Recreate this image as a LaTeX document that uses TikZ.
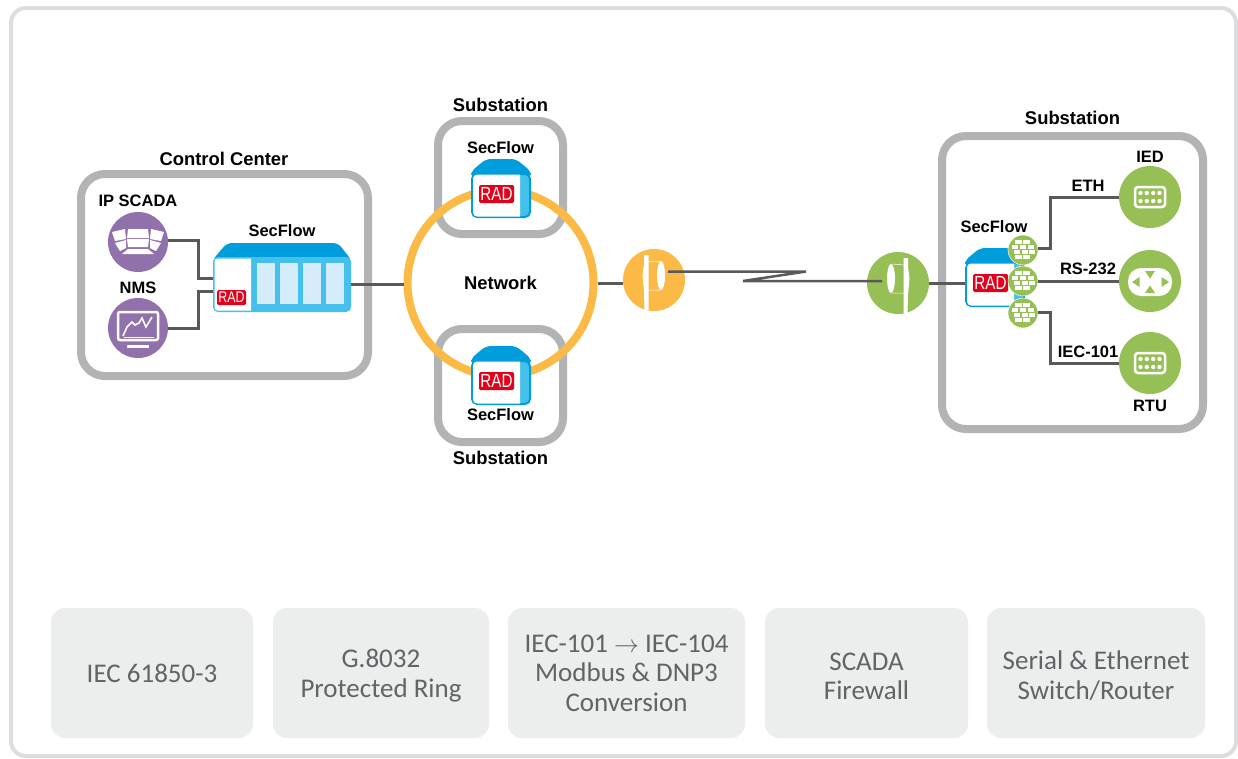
\documentclass[tikz,border=0pt]{standalone}
\usepackage{fontspec}
\setmainfont{Liberation Sans}
\newfontfamily\boxfont{Carlito}
\usepackage{xcolor}
\usetikzlibrary{positioning, calc}
\definecolor{siteGray}{RGB}{178, 179, 181}
\definecolor{frameGray}{RGB}{220, 221, 222}
\definecolor{boxGray}{RGB}{236, 237, 237}
\definecolor{boxText}{RGB}{98, 99, 102}
\definecolor{linkGray}{RGB}{88, 89, 91}
\definecolor{ringOrange}{RGB}{251, 186, 69}
\definecolor{leafGreen}{RGB}{150, 192, 86}
\definecolor{nmsPurple}{RGB}{145, 113, 171}
\definecolor{hatBlue}{RGB}{0, 157, 220}
\definecolor{stripBlue}{RGB}{69, 191, 235}
\definecolor{slotBlue}{RGB}{212, 236, 249}
\definecolor{radRed}{RGB}{226, 0, 26}
\newcommand{\firstline}{\rule{0pt}{24pt}}
\tikzset{
    tag/.style={
        font=\fontsize{16.5}{19}\selectfont\bfseries,
        align=center,
        inner sep=0pt
    },
    sitetag/.style={
        tag,
        font=\fontsize{18.4}{21}\selectfont\bfseries
    },
    site/.style={
        draw=siteGray,
        line width=8pt,
        fill=white,
        rounded corners=24pt
    },
    feature/.style={
        fill=boxGray,
        rounded corners=14pt,
        minimum height=130pt,
        align=center,
        text=boxText,
        font=\boxfont\fontsize{27}{29.5}\selectfont
    },
    bullet/.style={
        circle,
        minimum size=62pt,
        inner sep=0pt
    },
    guard/.style={
        circle,
        fill=leafGreen,
        draw=white,
        line width=0.5pt,
        minimum size=30pt,
        inner sep=0pt
    },
    link/.style={
        draw=linkGray,
        line width=3pt
    },
    radlogo/.style={
        fill=radRed,
        text=white,
        rounded corners=1.5pt,
        inner sep=0pt,
        font=\fontsize{19}{19}\selectfont
    },
    smallrad/.pic={
        \fill[hatBlue, rounded corners=5pt] (-30,-18) -- (-30,-24) -- (-15,-36.5) -- (15,-36.5) -- (30,-24) -- (30,-18) -- cycle;
        \node[draw=hatBlue, fill=stripBlue, line width=2pt, rounded corners=5pt, minimum width=58pt, minimum height=43pt, inner sep=0pt] (front) at (0,0) {};
        \fill[white] (19,-21) [rounded corners=4pt] -- (-28,-21) -- (-28,21) [sharp corners] -- (19,21) -- cycle;
        \node[radlogo, minimum width=35pt, minimum height=18pt] (logo) at (-4.5,-1.5) {\scalebox{.8}[1]{RAD}};
    },
    chassis/.pic={
        \fill[hatBlue, rounded corners=5pt] (-69,-18) -- (-69,-25) -- (-55,-41.5) -- (56,-41.5) -- (69,-25) -- (69,-18) -- cycle;
        \node[draw=stripBlue, fill=stripBlue, line width=2pt, rounded corners=4pt, minimum width=136pt, minimum height=53pt, inner sep=0pt] (front) at (0,0) {};
        \fill[white] (-31,-26) [rounded corners=3pt] -- (-67.5,-26) -- (-67.5,26) [sharp corners] -- (-31,26) -- cycle;
        \foreach \slotx in {-25,-2,21,44}
            \fill[slotBlue] (\slotx,-21.5) rectangle ++(18,41);
        \node[radlogo, minimum width=29pt, minimum height=15pt, font=\fontsize{15.5}{15.5}\selectfont] (logo) at (-50.5,13) {\scalebox{.8}[1]{RAD}};
    },
    dish/.pic={
        \fill[white] (-10,-25) -- (-5.5,-25) -- (-5.5,30) -- (-9.5,30) -- (-10,12) -- (-11.5,-5) -- (-10,-16) -- cycle;
        \fill[white] (7,-4.5) ellipse (4 and 14.5);
        \draw[white, line width=0.5pt] (-6,-18) -- (6,-19) (-6,10) -- (6,10);
    },
    screens/.pic={
        \fill[white] (-26,-10) -- (-13,-13) -- (-12,-3) -- (-23,-1) -- cycle;
        \fill[white] (-10,-13) -- (10,-13) -- (11,-4) -- (-11,-4) -- cycle;
        \fill[white] (13,-13) -- (26,-10) -- (23,-1) -- (12,-3) -- cycle;
        \fill[white] (-23,1) -- (-12,-2) -- (-12,6) -- (-18,9) -- cycle;
        \fill[white] (-11,-3) -- (11,-3) -- (10,5) -- (-10,5) -- cycle;
        \fill[white] (12,-2) -- (23,1) -- (18,9) -- (12,6) -- cycle;
        \fill[white] (-16,12) -- (-10,7) -- (10,7) -- (16,12) -- cycle;
    },
    monitor/.pic={
        \draw[white, line width=2.5pt, rounded corners=2pt] (-20,-16) rectangle (20,12);
        \draw[white, line width=1.6pt] (-15,8) -- (-11,-1) -- (-6,-6) -- (-3,-3) -- (1,-5) -- (4,-10) -- (8,-1) -- (14,-11);
        \draw[white, line width=1pt] (-14,9) -- (16,9);
        \fill[white] (-11,17) rectangle (11,20);
    },
    serialport/.pic={
        \draw[white, line width=2.5pt, rounded corners=3pt] (-15,-10) rectangle (15,10);
        \foreach \dotx in {-9.5,-3.2,3.2,9.5}
            \foreach \doty in {-4,4}
                \fill[white] (\dotx,\doty) circle (2.2);
    },
    crosspad/.pic={
        \fill[white, rounded corners=13pt] (-22,-13) rectangle (22,15);
        \fill[leafGreen] (-5,-10) -- (5,-10) -- (0,-2.5) -- cycle;
        \fill[leafGreen] (-5,12) -- (5,12) -- (0,4.5) -- cycle;
        \fill[leafGreen] (-18,1) -- (-10.5,-4) -- (-10.5,6) -- cycle;
        \fill[leafGreen] (19,1) -- (11.5,-4) -- (11.5,6) -- cycle;
    },
    bricks/.pic={
        \foreach \rowy/\rowx in {-8/-5,-8/3,-3/-8.5,-3/-0.5,-3/7.5,2/-6.5,2/1.5,2/8.5,7/-5,7/3}
            \fill[white] ({\rowx-3},\rowy-1.7) rectangle ++(6.5,3.4);
    }
}
\begin{document}
\begin{tikzpicture}[x=1pt, y=-1pt]
  \useasboundingbox (0,0) rectangle (1238,758);
  \fill[white] (0,0) rectangle (1238,758);

  % Frame
  \node[draw=frameGray, line width=4pt, rounded corners=15pt, minimum width=1225pt, minimum height=748pt, inner sep=0pt] (frame) at (623.5,382) {};

  % Sites
  \node[site, minimum width=287pt, minimum height=202pt, inner sep=0pt] (control) at (224.5,275) {};
  \node[site, minimum width=125pt, minimum height=113pt, inner sep=0pt] (subTop) at (500.5,177.5) {};
  \node[site, minimum width=125pt, minimum height=113pt, inner sep=0pt] (subBottom) at (500.5,385.5) {};
  \node[site, minimum width=261pt, minimum height=293pt, inner sep=0pt] (subRight) at (1072.5,282.5) {};
  \node[sitetag] (controlName) at (224,159) {Control Center};
  \node[sitetag] (subTopName) at (500.5,105) {Substation};
  \node[sitetag] (subBottomName) at (500.5,458) {Substation};
  \node[sitetag] (subRightName) at (1072.5,118) {Substation};

  % Ring
  \node[circle, draw=ringOrange, line width=8pt, minimum size=186pt, inner sep=0pt] (ring) at (500.5,283) {};
  \node[sitetag] (ringName) at (500.5,283) {Network};

  % SecFlow units
  \pic (unitTop) at (501,195.5) {smallrad};
  \pic (unitBottom) at (501,382.5) {smallrad};
  \pic (unitRight) at (995,284.5) {smallrad};
  \pic (unitMain) at (282,284.5) {chassis};
  \node[tag] (unitTopName) at (500.5,148) {SecFlow};
  \node[tag] (unitBottomName) at (500.5,415) {SecFlow};
  \node[tag] (unitRightName) at (994,227) {SecFlow};
  \node[tag] (unitMainName) at (282,231) {SecFlow};

  % Control center hosts
  \node[bullet, fill=nmsPurple, minimum size=60pt] (scada) at (138,242) {};
  \node[bullet, fill=nmsPurple, minimum size=60pt] (nms) at (138,328) {};
  \pic at (138,242) {screens};
  \pic at (138,328) {monitor};
  \node[tag] (scadaName) at (138,201) {IP SCADA};
  \node[tag] (nmsName) at (138,288) {NMS};

  % Dishes
  \node[bullet, fill=ringOrange] (dishLeft) at (654,280) {};
  \node[bullet, fill=leafGreen] (dishRight) at (898,283) {};
  \pic at (654,280) {dish};
  \pic[xscale=-1] at (898,283) {dish};
  \coordinate (feedLeft) at (668,271.5);
  \coordinate (feedRight) at (882,281);
  \coordinate (zigA) at (806,271.5);
  \coordinate (zigB) at (743,281);

  % Firewalls
  \node[guard] (wallA) at (1023,250) {};
  \node[guard] (wallB) at (1023,281) {};
  \node[guard] (wallC) at (1023,313) {};
  \foreach \wall in {wallA,wallB,wallC}
      \pic at (\wall) {bricks};

  % Field devices
  \node[bullet, fill=leafGreen] (ied) at (1150,197) {};
  \node[bullet, fill=leafGreen] (serial) at (1150,281) {};
  \node[bullet, fill=leafGreen] (rtu) at (1150,363) {};
  \pic at (ied) {serialport};
  \pic at (serial) {crosspad};
  \pic at (rtu) {serialport};
  \node[tag] (iedName) at (1150,157) {IED};
  \node[tag] (rtuName) at (1150,406) {RTU};

  % Connections
  \coordinate (elbowTop) at (198,278);
  \coordinate (elbowLow) at (198,291);
  \coordinate (elbowEth) at (1050,248);
  \coordinate (elbowIec) at (1050,312);
  \draw[link] (scada.east |- 0,240) -| (elbowTop) -- (elbowTop -| unitMainfront.west);
  \draw[link] (nms.east) -| (elbowLow) -- (elbowLow -| unitMainfront.west);
  \draw[link] (unitMainfront.east) -- (unitMainfront.east -| ring.west);
  \draw[link] (ring.east) -- (ring.east -| dishLeft.west);
  \draw[link, line width=2.5pt, line join=miter] (feedLeft) -- (zigA) -- (zigB) -- (feedRight);
  \draw[link] (dishRight.east) -- (unitRightfront.west |- dishRight.east);
  \draw[link] (wallA.east |- elbowEth) -- (elbowEth) |- (ied.west);
  \draw[link] (wallB.east) -- (serial.west);
  \draw[link] (wallC.east |- elbowIec) -- (elbowIec) |- (rtu.west);
  \node[tag] (ethName) at (1088,186) {ETH};
  \node[tag] (rsName) at (1088,269) {RS-232};
  \node[tag] (iecName) at (1088,352) {IEC-101};

  % Feature boxes
  \node[feature, minimum width=202pt] (featRing) at (152,673) {IEC 61850-3};
  \node[feature, minimum width=216pt] (featG) at (381,673) {\firstline G.8032\\Protected Ring};
  \node[feature, minimum width=237pt] (featConv) at (626.5,673) {IEC-101 $\rightarrow$ IEC-104\\Modbus \& DNP3\\Conversion};
  \node[feature, minimum width=203pt] (featWall) at (866.5,673) {\firstline SCADA\\Firewall};
  \node[feature, minimum width=218pt] (featSwitch) at (1096,673) {\firstline Serial \& Ethernet\\Switch/Router};
\end{tikzpicture}
\end{document}
